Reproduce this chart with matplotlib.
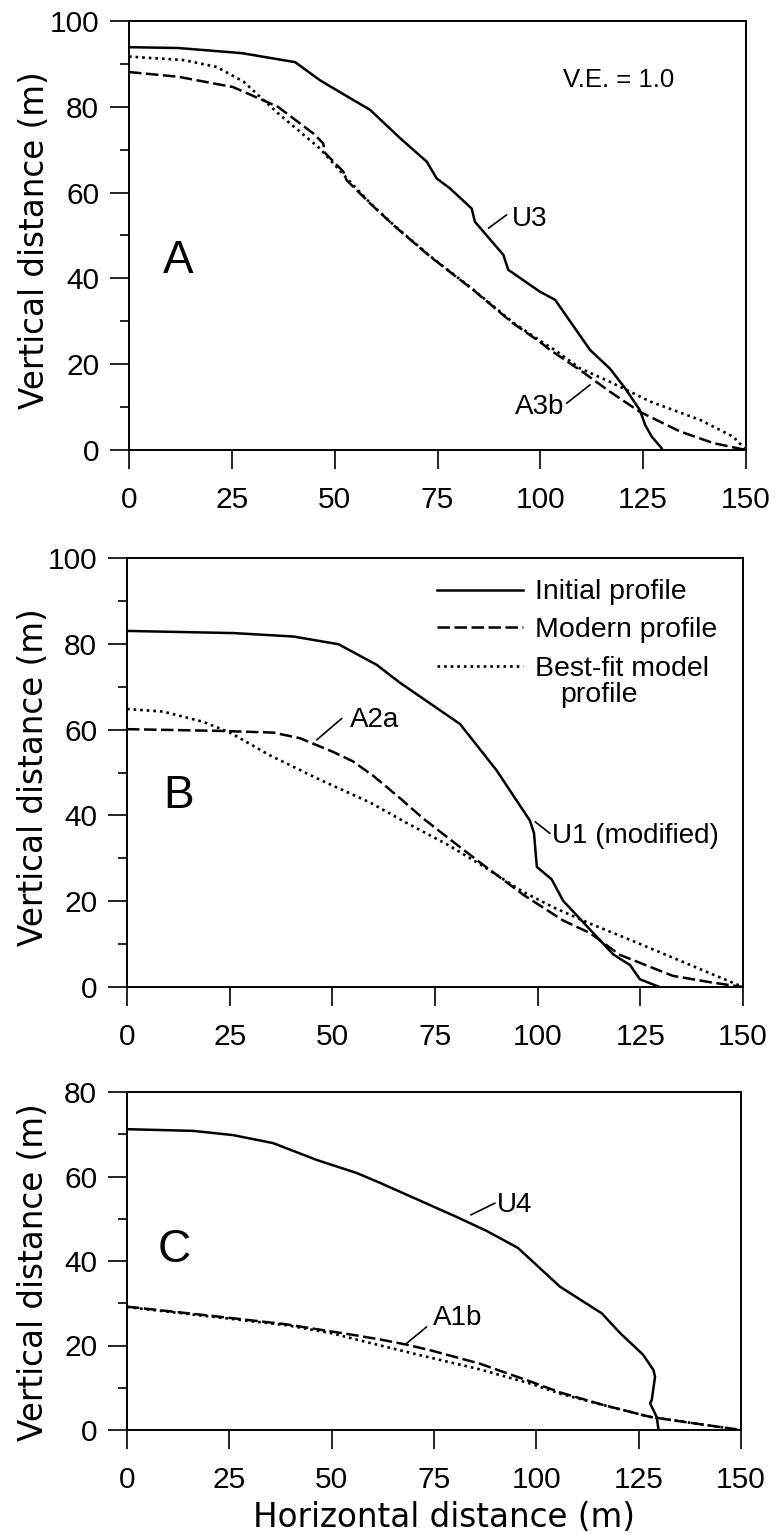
import matplotlib
matplotlib.use("Agg")
import matplotlib.pyplot as plt
from matplotlib.ticker import MultipleLocator

plt.rcParams['font.family'] = ['Liberation Sans', 'DejaVu Sans']

# ---------------- data (horizontal distance m, vertical distance m) ----------------
# Panel A
u3_x = [0, 12, 27.5, 40.4, 46.4, 54.5, 58.6, 65.9, 72.4, 74.8, 78.0, 83.3, 84.1, 91.0, 92.2,
        99.9, 103.6, 112.1, 116.9, 120.6, 124.2, 125.5, 127.1, 129.5]
u3_y = [93.9, 93.7, 92.5, 90.4, 86.2, 81.6, 79.3, 72.7, 67.2, 63.3, 61.0, 56.3, 53.2, 45.5, 42.0,
        36.9, 35.0, 23.3, 19.0, 14.4, 9.3, 5.8, 3.1, 0.4]
a3b_x = [0, 12, 25.3, 36.2, 44.8, 47.2, 47.7, 52.1, 52.9, 58.6, 64.3, 73.2, 83.7, 93.4, 99.9,
         102.4, 109.7, 116.9, 124.2, 134.0, 142.1, 150]
a3b_y = [88.1, 87.0, 84.6, 80.0, 73.8, 71.5, 69.2, 64.9, 62.9, 57.5, 52.4, 45.1, 37.3, 29.5, 25.2,
         23.3, 18.6, 13.6, 8.9, 4.3, 1.6, 0]
fita_x = [0, 13.2, 21.3, 27.8, 36.7, 46.4, 52.5, 58.6, 64.3, 73.2, 83.7, 93.4, 99.9, 104,
          109.7, 116.9, 126.7, 138.9, 146.9, 150]
fita_y = [91.7, 90.9, 89.3, 85.9, 78.1, 70.3, 63.8, 57.6, 52.5, 45.2, 37.4, 29.7, 25.5, 23.0,
          19.0, 15.9, 11.3, 7.0, 3.1, 0]

# Panel B
u1_x = [0, 25.9, 40.5, 51.5, 60.8, 66.5, 81.1, 90.0, 98.1, 99.1, 99.8, 103.4, 106.2, 110.3,
        118.4, 122.5, 124.9, 129.4]
u1_y = [83.0, 82.5, 81.7, 79.9, 75.1, 70.9, 61.3, 50.5, 38.8, 35.9, 28.0, 25.1, 20.1, 15.9,
        7.6, 5.1, 1.8, 0.1]
a2a_x = [0, 22.6, 35.6, 42.1, 50.2, 55.0, 60.0, 66.5, 72.1, 81.1, 86.0, 96.5, 106.2, 112.7,
         120.0, 132.9, 142.7, 150]
a2a_y = [60.1, 59.7, 59.3, 58.0, 54.8, 52.6, 49.2, 44.0, 39.3, 32.6, 29.0, 21.5, 15.5, 12.6,
         7.5, 2.6, 1.0, 0]
fitb_x = [0, 8.8, 18.6, 25.1, 34.8, 47.0, 59.2, 68.0, 78.0, 86.0, 96.4, 104.0, 112.7, 122.5,
          133.0, 141.0, 150]
fitb_y = [64.8, 64.2, 61.8, 59.3, 54.0, 48.3, 43.0, 38.3, 33.2, 28.6, 22.2, 18.5, 14.8, 11.0,
          6.8, 3.6, 0]

# Panel C
u4_x = [0, 16.1, 25.9, 35.7, 46.4, 56.2, 61.8, 80.6, 87.9, 95.5, 105.8, 116.0, 120.4, 126.1,
        128.6, 129.0, 128.2, 127.8, 129.4, 129.8]
u4_y = [71.2, 70.8, 69.8, 67.9, 63.9, 60.8, 58.5, 50.4, 47.1, 43.1, 33.9, 27.6, 23.0, 17.8,
        14.2, 12.6, 7.1, 6.3, 3.1, 0.4]
a1b_x = [0, 22.7, 39.0, 50.0, 55.3, 62.0, 68.3, 74.0, 86.2, 98.5, 105.8, 116.4, 127.8, 138.4, 150]
a1b_y = [29.2, 26.8, 25.0, 23.3, 22.5, 21.4, 20.2, 18.9, 15.7, 11.5, 8.9, 5.9, 3.1, 1.6, 0]
fitc_x = [0, 22.7, 39.0, 50.0, 59.4, 71.6, 86.0, 98.5, 105.8, 116.4, 127.8, 138.4, 150]
fitc_y = [29.1, 26.6, 24.8, 22.9, 20.6, 17.7, 14.4, 11.0, 8.6, 5.9, 3.1, 1.6, 0]

x_ticks = [0, 25, 50, 75, 100, 125, 150]
legend_labels = ["Initial profile", "Modern profile", "Best-fit model", "profile"]

# ---------------- styles ----------------
LW = 1.8
SOLID = dict(color='black', lw=LW, linestyle='-')
DASH = dict(color='black', lw=LW, linestyle=(0, (5.0, 1.8)))
DOT = dict(color='black', lw=1.9, linestyle=(0, (1.0, 1.5)))
TICKFS = 21.5
ANNFS = 20
LABFONT = dict(family=['DejaVu Sans'], size=23.5)

fig = plt.figure(figsize=(7.78, 15.37), dpi=100)
W, H = 778, 1537

def make_ax(l, r, t, b, ymax):
    ax = fig.add_axes([l / W, 1 - b / H, (r - l) / W, (b - t) / H])
    ax.set_xlim(0, 150)
    ax.set_ylim(0, ymax)
    ax.set_xticks(x_ticks)
    ax.yaxis.set_major_locator(MultipleLocator(20))
    ax.yaxis.set_minor_locator(MultipleLocator(10))
    for s in ax.spines.values():
        s.set_linewidth(1.4)
    ax.tick_params(axis='y', which='major', direction='out', length=13.5, width=1.2,
                   labelsize=TICKFS, pad=8)
    ax.tick_params(axis='y', which='minor', direction='out', length=6.5, width=1.2)
    ax.tick_params(axis='x', which='major', direction='out', length=14, width=1.2,
                   labelsize=TICKFS, pad=12)
    ax.set_ylabel("Vertical distance (m)", fontdict=LABFONT)
    return ax

def leader(ax, p0, p1):
    ax.annotate('', xy=p0, xytext=p1,
                arrowprops=dict(arrowstyle='-', lw=1.2, color='black', shrinkA=0, shrinkB=0))

# ---------------- Panel A ----------------
axA = make_ax(129, 746, 21, 450, 100)
axA.plot(u3_x, u3_y, **SOLID)
axA.plot(a3b_x, a3b_y, **DASH)
axA.plot(fita_x, fita_y, **DOT)
axA.text(8.3, 41.3, "A", fontsize=33, va='baseline', ha='left')
axA.text(105.4, 84.7, "V.E. = 1.0", fontsize=18.5, va='baseline', ha='left')
axA.text(93.0, 52.1, "U3", fontsize=ANNFS, va='baseline', ha='left')
leader(axA, (87.4, 51.7), (91.8, 54.8))
axA.text(93.8, 8.5, "A3b", fontsize=ANNFS, va='baseline', ha='left')
leader(axA, (112.1, 15.2), (106.4, 10.9))
axA.yaxis.set_label_coords(-0.126, 0.49)

# ---------------- Panel B ----------------
axB = make_ax(127, 743, 558, 987, 100)
axB.plot(u1_x, u1_y, **SOLID)
axB.plot(a2a_x, a2a_y, **DASH)
axB.plot(fitb_x, fitb_y, **DOT)
axB.text(8.8, 41.7, "B", fontsize=33, va='baseline', ha='left')
axB.text(54.3, 60.7, "A2a", fontsize=ANNFS, va='baseline', ha='left')
leader(axB, (46.2, 57.6), (52.3, 62.6))
axB.text(103.4, 33.5, "U1 (modified)", fontsize=ANNFS, va='baseline', ha='left')
leader(axB, (99.4, 38.5), (103.0, 35.8))
axB.yaxis.set_label_coords(-0.125, 0.49)

# legend (drawn manually to keep the two-line label layout)
leg_line_y = [0.925, 0.838, 0.748]
leg_base_y = [0.904, 0.817, 0.725]
for style, lab, yl, yb in zip([SOLID, DASH, DOT], legend_labels[:3], leg_line_y, leg_base_y):
    axB.plot([0.503, 0.643], [yl, yl], transform=axB.transAxes, **style)
    axB.text(0.662, yb, lab, transform=axB.transAxes, fontsize=20.5, va='baseline', ha='left')
axB.text(0.703, 0.664, legend_labels[3], transform=axB.transAxes, fontsize=20.5,
         va='baseline', ha='left')

# ---------------- Panel C ----------------
axC = make_ax(127, 741, 1092, 1430, 80)
axC.plot(u4_x, u4_y, **SOLID)
axC.plot(a1b_x, a1b_y, **DASH)
axC.plot(fitc_x, fitc_y, **DOT)
axC.text(7.6, 39.8, "C", fontsize=33, va='baseline', ha='left')
axC.text(90.3, 51.7, "U4", fontsize=ANNFS, va='baseline', ha='left')
leader(axC, (84.0, 50.9), (89.9, 53.7))
axC.text(74.8, 24.9, "A1b", fontsize=ANNFS, va='baseline', ha='left')
leader(axC, (68.3, 20.5), (73.2, 24.4))
axC.yaxis.set_label_coords(-0.125, 0.468)
axC.set_xlabel("Horizontal distance (m)", fontdict=LABFONT)
axC.xaxis.set_label_coords(0.516, -0.21)

fig.savefig("out.png", dpi=100)
